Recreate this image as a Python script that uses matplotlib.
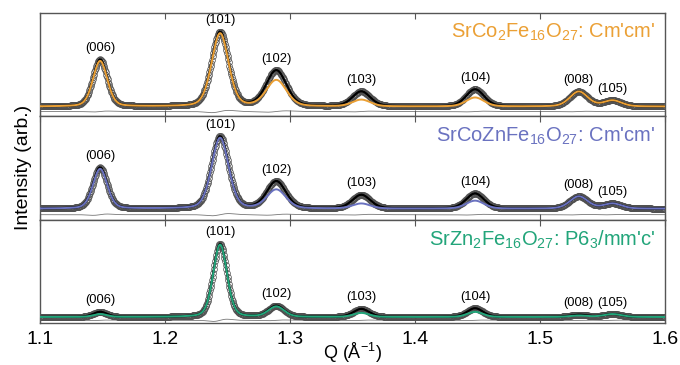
import numpy as np
import matplotlib
matplotlib.use("Agg")
from matplotlib import pyplot as plt

plt.rcParams['font.family'] = ['Liberation Sans', 'DejaVu Sans']
plt.rcParams['mathtext.default'] = 'regular'

# peak positions (Q, 1/A) and labels
hkl = ['(006)', '(101)', '(102)', '(103)', '(104)', '(008)', '(105)']
q_peak = [1.148, 1.244, 1.289, 1.357, 1.448, 1.531, 1.558]

# observed / fitted peak heights, normalised to (101)
obs_co2 = [0.63, 1.00, 0.48, 0.20, 0.23, 0.20, 0.08]
fit_co2 = [0.61, 0.98, 0.35, 0.09, 0.12, 0.20, 0.08]
obs_cozn = [0.57, 1.00, 0.375, 0.19, 0.21, 0.17, 0.07]
fit_cozn = [0.55, 0.98, 0.26, 0.07, 0.11, 0.17, 0.07]
obs_zn2 = [0.07, 1.00, 0.15, 0.11, 0.12, 0.03, 0.04]
fit_zn2 = [0.04, 0.99, 0.14, 0.055, 0.07, 0.02, 0.04]

# peak widths (FWHM in Q)
fwhm_co2 = [0.0135, 0.016, 0.019, 0.017, 0.017, 0.017, 0.017]
fwhm_cozn = [0.0135, 0.016, 0.018, 0.017, 0.017, 0.017, 0.017]
fwhm_zn2 = [0.013, 0.013, 0.015, 0.015, 0.015, 0.017, 0.017]

# residual wiggle amplitudes per peak
diff_co2 = [0.010, 0.025, 0.015, 0.008, 0.008, 0.006, 0.004]
diff_cozn = [0.015, 0.025, 0.012, 0.008, 0.008, 0.006, 0.004]
diff_zn2 = [0.006, 0.025, 0.008, 0.006, 0.006, 0.004, 0.004]

titles = [r"SrCo$_2$Fe$_{16}$O$_{27}$: Cm'cm'",
          r"SrCoZnFe$_{16}$O$_{27}$: Cm'cm'",
          r"SrZn$_2$Fe$_{16}$O$_{27}$: P6$_3$/mm'c'"]
colors = ['#EBA035', '#6A72C0', '#22A57A']
ylims = [(-0.133, 1.253), (-0.153, 1.278), (-0.082, 1.33)]
diff_off = [-0.067, -0.083, -0.045]

q = np.arange(1.1, 1.6005, 0.0005)


def profile(heights, widths, eta=0.25):
    y = np.zeros_like(q)
    for c, h, w in zip(q_peak, heights, widths):
        s = w / 2.355
        g = np.exp(-0.5 * ((q - c) / s) ** 2)
        lor = 1.0 / (1.0 + ((q - c) / (w / 2)) ** 2)
        y += h * ((1 - eta) * g + eta * lor)
    return y


def residual(amps, widths):
    y = np.zeros_like(q)
    for c, a, w in zip(q_peak, amps, widths):
        s = w / 2.355
        u = (q - c) / s
        y += a * u * np.exp(-0.5 * u ** 2)
    return y


panels = [(obs_co2, fit_co2, fwhm_co2, diff_co2),
          (obs_cozn, fit_cozn, fwhm_cozn, diff_cozn),
          (obs_zn2, fit_zn2, fwhm_zn2, diff_zn2)]

fig, axes = plt.subplots(3, 1, sharex=True, figsize=(6.8, 3.65), dpi=100)
fig.subplots_adjust(left=0.059, right=0.978, bottom=0.115, top=0.964, hspace=0)

for i, ax in enumerate(axes):
    obs, fit, fw, dif = panels[i]
    y_obs = profile(obs, fw)
    y_fit = profile(fit, fw)
    ax.plot(q, y_obs, color='#555555', lw=0, marker='o', ms=4.2,
            mfc='none', mec='#505050', mew=0.5, zorder=2)
    ax.plot(q, y_obs, color='black', lw=1.6, zorder=2)
    ax.plot(q, y_fit, color=colors[i], lw=1.4, zorder=3)
    ax.plot(q, residual(dif, fw) + diff_off[i], color='#777777', lw=0.6, zorder=1)

    for lab, c, h in zip(hkl, q_peak, obs):
        ax.annotate(lab, (c, h), xytext=(0, 4), textcoords='offset points',
                    ha='center', va='bottom', fontsize=9.3)

    ax.text(0.984, 0.81, titles[i], transform=ax.transAxes, ha='right',
            va='center', fontsize=14.5, color=colors[i])

    ax.set_xlim(1.1, 1.6)
    ax.set_ylim(*ylims[i])
    ax.set_yticks([])
    ax.tick_params(axis='x', direction='in', top=True, length=4,
                   color='#555555', labelsize=14, pad=6)
    for sp in ax.spines.values():
        sp.set_color('#555555')
        sp.set_linewidth(1.0)

axes[-1].set_xticks([1.1, 1.2, 1.3, 1.4, 1.5, 1.6])
axes[-1].set_xlabel(r"Q ($\AA^{-1}$)", fontsize=13)
axes[-1].xaxis.set_label_coords(0.5, -0.17)
fig.text(0.034, 0.54, 'Intensity (arb.)', rotation=90, ha='center',
         va='center', fontsize=14)

plt.savefig('out.png', dpi=100)
